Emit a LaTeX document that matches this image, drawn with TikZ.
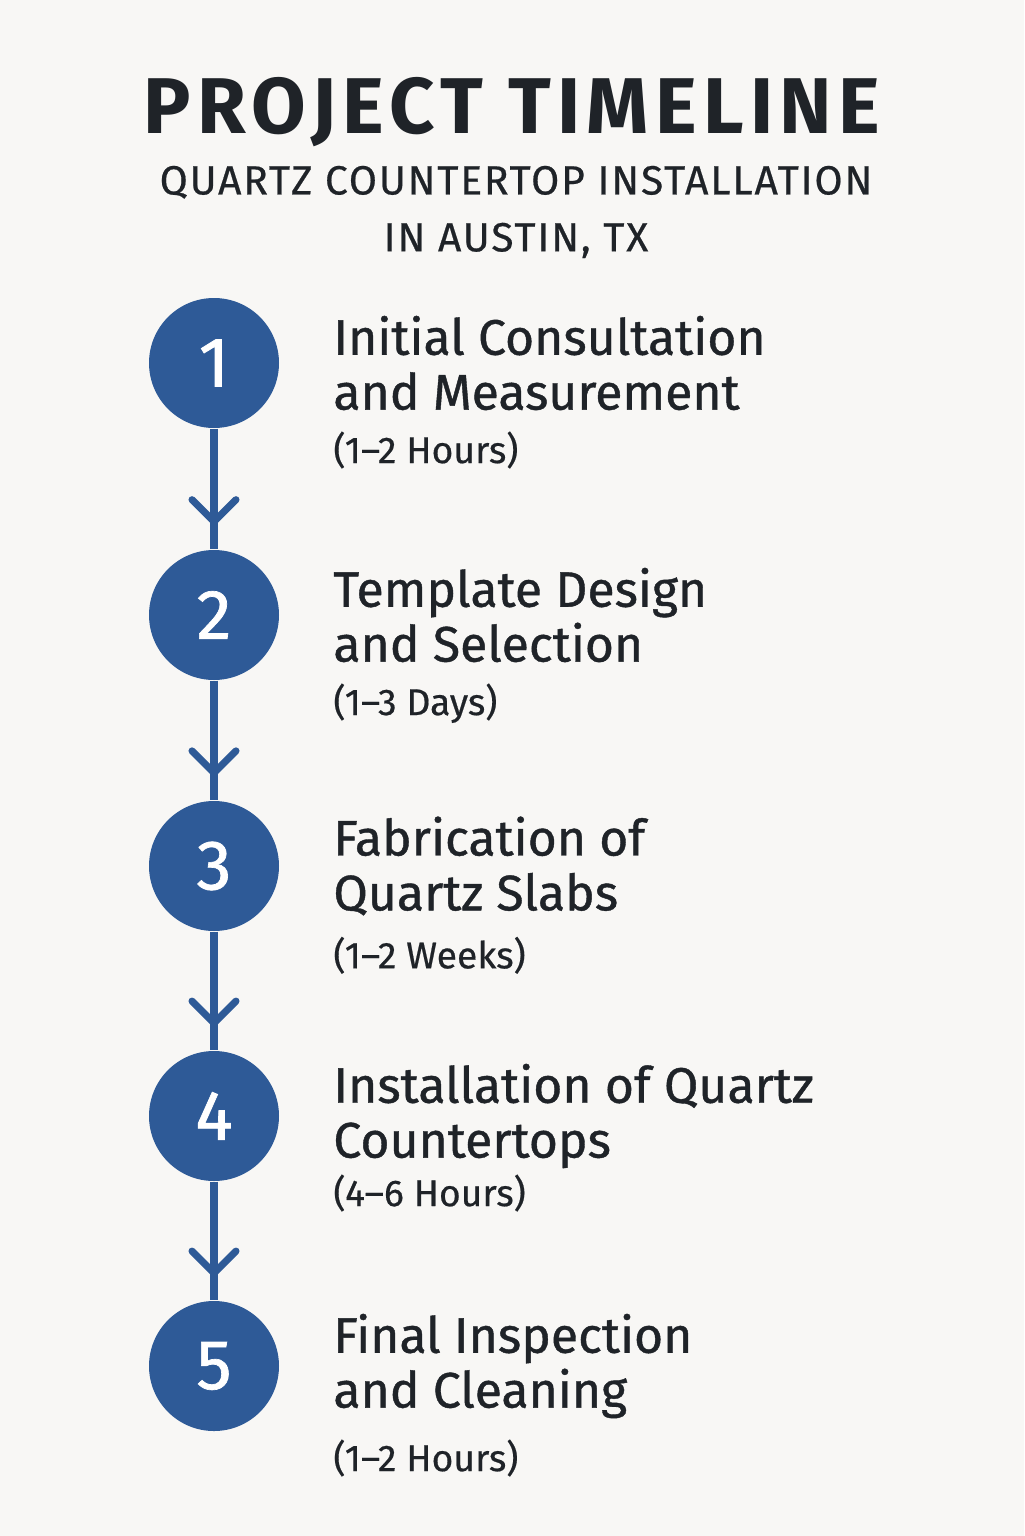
\documentclass[tikz,border=0pt]{standalone}
\usepackage{fontspec}
\setmainfont{Fira Sans}
\usetikzlibrary{arrows.meta, decorations.markings, positioning}
\definecolor{stepblue}{HTML}{2E5A97}
\definecolor{inkdark}{HTML}{1F2328}
\definecolor{paper}{HTML}{F8F7F5}
\tikzset{
  stepdot/.style={circle, fill=stepblue, minimum size=1.3cm, inner sep=0pt,
    text=white, font=\fontsize{20}{20}\selectfont\addfontfeature{FakeBold=1}},
  steptitle/.style={anchor=west, align=left, text=inkdark, inner sep=0pt,
    font=\fontsize{14.2}{15.6}\selectfont\addfontfeature{FakeBold=0.8}},
  steptime/.style={anchor=north west, text=inkdark, inner sep=0pt,
    font=\fontsize{10.6}{12}\selectfont\addfontfeature{FakeBold=0.5}},
  flow/.style={stepblue, line width=2pt, postaction={decorate},
    decoration={markings, mark=at position 0.8 with
      {\arrow{Straight Barb[length=2.2mm, width=4.4mm, line width=2pt, round]}}}}
}
\begin{document}
\begin{tikzpicture}[x=1cm, y=-1cm]
	% page
	\fill[paper] (0,0) rectangle (10.24,15.36);
	\useasboundingbox (0,0) rectangle (10.24,15.36);
	% heading
	\node[text=inkdark, font=\fontsize{22.5}{24}\selectfont\bfseries\addfontfeature{LetterSpace=8}] (head) at (5.12,1.12) {PROJECT TIMELINE};
	\node[text=inkdark, align=center, font=\fontsize{11.6}{16.2}\selectfont\addfontfeature{LetterSpace=4.5, FakeBold=0.5}] (sub) at (5.16,2.12) {QUARTZ COUNTERTOP INSTALLATION\\IN AUSTIN, TX};
	% steps
	\node[stepdot] (c1) at (2.14,3.63) {1};
	\node[stepdot] (c2) at (2.14,6.15) {2};
	\node[stepdot] (c3) at (2.14,8.66) {3};
	\node[stepdot] (c4) at (2.14,11.16) {4};
	\node[stepdot] (c5) at (2.14,13.66) {5};
	\node[steptitle, right=0.53cm of c1] (t1) {Initial Consultation\\and Measurement};
	\node[steptitle, right=0.53cm of c2] (t2) {Template Design\\and Selection};
	\node[steptitle, right=0.53cm of c3] (t3) {Fabrication of\\Quartz Slabs};
	\node[steptitle, right=0.53cm of c4] (t4) {Installation of Quartz\\Countertops};
	\node[steptitle, right=0.53cm of c5] (t5) {Final Inspection\\and Cleaning};
	\node[steptime] (d1) at ([yshift=-0.2cm]t1.south west) {(1–2 Hours)};
	\node[steptime] (d2) at ([yshift=-0.2cm]t2.south west) {(1–3 Days)};
	\node[steptime] (d3) at ([yshift=-0.2cm]t3.south west) {(1–2 Weeks)};
	\node[steptime] (d4) at ([yshift=-0.05cm]t4.south west) {(4–6 Hours)};
	\node[steptime] (d5) at ([yshift=-0.2cm]t5.south west) {(1–2 Hours)};
	% connectors
	\foreach \a/\b in {c1/c2, c2/c3, c3/c4, c4/c5}
		\draw[flow] (\a) -- (\b);
\end{tikzpicture}
\end{document}
